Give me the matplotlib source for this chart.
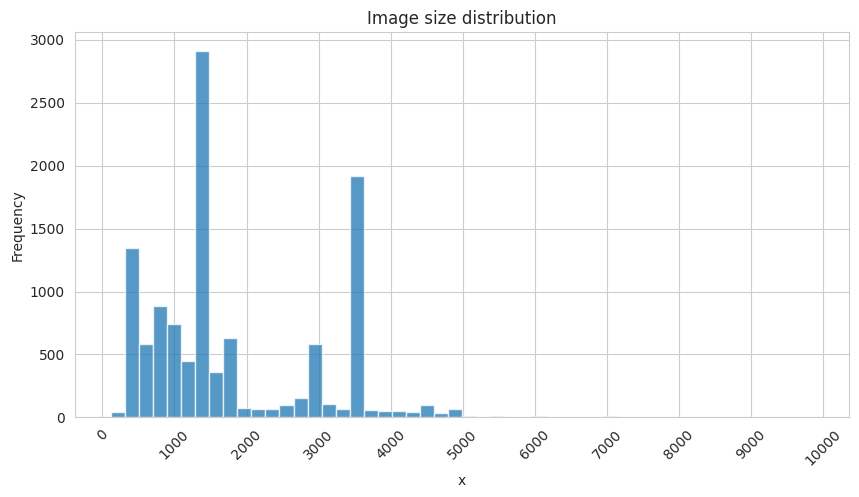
import numpy as np
import matplotlib
matplotlib.use("Agg")
import matplotlib.pyplot as plt
import seaborn as sns

# histogram counts, 50 equal bins
bin_lo = 120
bin_hi = 9860
counts = [40, 1344, 583, 885, 742, 448, 2915, 360, 628, 74,
          66, 66, 98, 153, 583, 106, 66, 1918, 58, 50,
          50, 42, 98, 34, 66, 13, 0, 11, 0, 0,
          11, 0, 0, 0, 0, 11, 0, 0, 0, 0,
          0, 0, 0, 0, 0, 0, 0, 0, 0, 1]
xticks = list(range(0, 10001, 1000))
yticks = list(range(0, 3001, 500))

edges = np.linspace(bin_lo, bin_hi, len(counts) + 1)
centers = (edges[:-1] + edges[1:]) / 2

sns.set_style("whitegrid")
fig = plt.figure(figsize=(8.59, 4.97), dpi=100)
ax = fig.add_axes([74.7 / 859, (497 - 417.3) / 497, 774.6 / 859, 385 / 497])

# seaborn-like histogram bars
ax.hist(centers, bins=edges, weights=counts, color="C0", alpha=0.75,
        edgecolor="white", linewidth=1)

ax.set_xlim(-383, 10361)
ax.set_ylim(0, 3061)
ax.set_xticks(xticks)
ax.set_yticks(yticks)
plt.xticks(rotation=45)
ax.set_title("Image size distribution")
ax.set_xlabel("x")
ax.set_ylabel("Frequency")

fig.savefig("out.png", dpi=100)
